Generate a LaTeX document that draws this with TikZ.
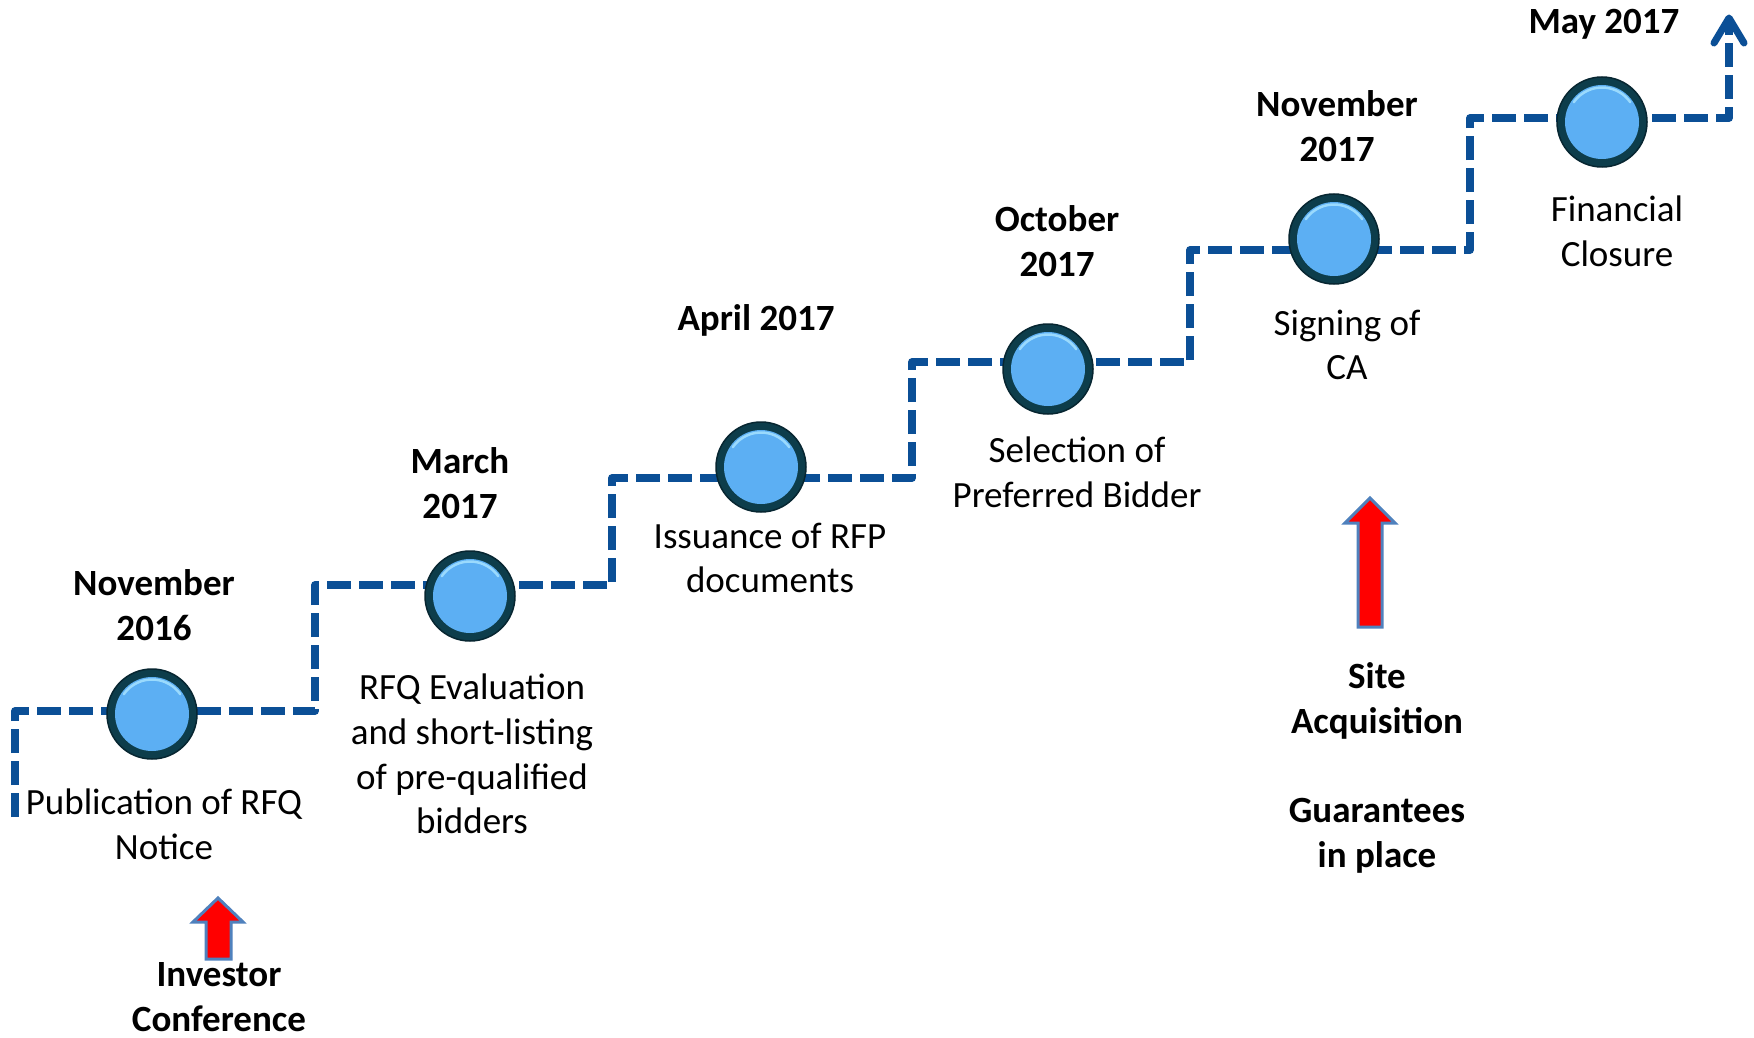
\documentclass[tikz,border=0pt]{standalone}
\usepackage{fontspec}
\setmainfont{Carlito}
\usetikzlibrary{arrows.meta}
\definecolor{linecol}{HTML}{0B4F96}
\definecolor{ringcol}{HTML}{0D3D4B}
\definecolor{ringedge}{HTML}{072631}
\definecolor{ballfill}{HTML}{5CAFF3}
\definecolor{balllight}{HTML}{9ADAFD}
\definecolor{arrowedge}{HTML}{4F81BD}
\begin{document}
\begin{tikzpicture}[x=1pt,y=-1pt,
 lbl/.style={align=center, inner sep=0pt, font=\fontsize{37}{44.7}\selectfont},
 datelbl/.style={align=center, inner sep=0pt, font=\fontsize{37}{44.7}\selectfont\bfseries},
 stair/.style={draw=linecol, line width=7.5pt, dash pattern=on 24pt off 8pt, line join=round},
 ring/.style={circle, fill=ringcol, draw=ringedge, line width=1.5pt, minimum size=90pt, inner sep=0pt},
 blockarrow/.style={fill=red, draw=arrowedge, line width=3pt, line join=miter}]
\useasboundingbox (0,0) rectangle (1754,1038);
\fill[white] (0,0) rectangle (1754,1038);
% staircase
\draw[stair] (15,817) -- (15,711) -- (315,711) -- (315,585) -- (612,585) -- (612,478) -- (912,478) -- (912,362) -- (1190,362) -- (1190,250) -- (1470,250) -- (1470,118) -- (1729,118) -- (1729,22);
\draw[linecol, line width=7pt, line cap=round, line join=round] (1714,43) -- (1729,18) -- (1744,43);
% milestones
\foreach \n/\x/\y in {c1/152/714, c2/470/596, c3/761/467, c4/1048/369, c5/1334/239, c6/1602/122}{
  \node[ring] (\n) at (\x,\y) {};
  \fill[ballfill] (\n) circle (37);
  \draw[balllight, line width=2.5pt, line cap=round] (\n) ++(-145:34.5) arc[start angle=-145, end angle=-35, radius=34.5];
}
% labels
\node[datelbl] (d1) at (154,605) {November\\2016};
\node[lbl] (t1) at (164,824) {Publication of RFQ\\Notice};
\node[datelbl] (d2) at (460,483) {March\\2017};
\node[lbl] (t2) at (472,754) {RFQ Evaluation\\and short-listing\\of pre-qualified\\bidders};
\node[datelbl] (d3) at (756,320) {April 2017};
\node[lbl] (t3) at (770,558) {Issuance of RFP\\documents};
\node[datelbl] (d4) at (1057,241) {October\\2017};
\node[lbl] (t4) at (1077,472) {Selection of\\Preferred Bidder};
\node[datelbl] (d5) at (1337,126) {November\\2017};
\node[lbl] (t5) at (1347,345) {Signing of\\CA};
\node[datelbl] (d6) at (1604,24) {May 2017};
\node[lbl] (t6) at (1617,231) {Financial\\Closure};
% events
\draw[blockarrow] (218,898) -- (243,922) -- (231,922) -- (231,959) -- (206,959) -- (206,922) -- (193,922) -- cycle;
\node[datelbl] (e1) at (219,997) {Investor\\Conference};
\draw[blockarrow] (1370,498) -- (1395,523) -- (1382,523) -- (1382,627) -- (1358,627) -- (1358,523) -- (1345,523) -- cycle;
\node[datelbl] (e2) at (1377,768) {Site\\Acquisition\\[44.7pt]Guarantees\\in place};
\end{tikzpicture}
\end{document}
